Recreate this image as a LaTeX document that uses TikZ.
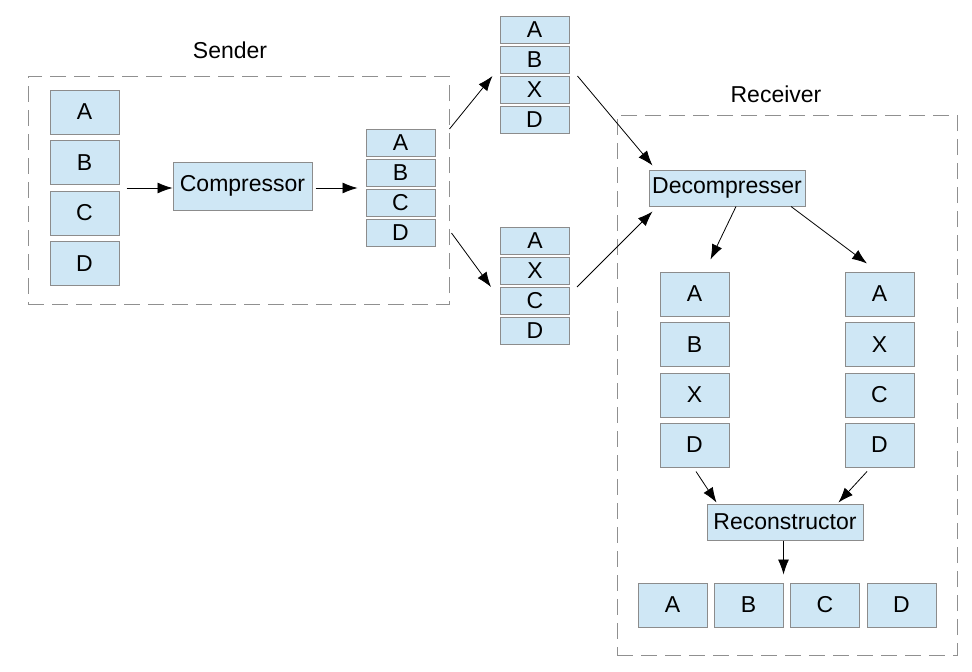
\documentclass[tikz,border=0pt]{standalone}
\usepackage{fontspec}
\setmainfont{Liberation Sans}
\usetikzlibrary{arrows.meta}
\definecolor{pktfill}{HTML}{CFE7F5}
\definecolor{pktline}{HTML}{8C8C8C}
\definecolor{grpline}{HTML}{909090}
\tikzset{
  pkt/.style={draw=pktline,fill=pktfill,line width=1pt,inner sep=0pt,
    minimum width=69pt,minimum height=44pt,font=\fontsize{23}{27}\selectfont},
  slim/.style={pkt,minimum height=27pt},
  proc/.style={pkt,minimum width=156pt,minimum height=36pt},
  grp/.style={draw=grpline,line width=1pt,dash pattern=on 16pt off 8pt,
    inner sep=0pt},
  lbl/.style={font=\fontsize{23}{27}\selectfont},
  arr/.style={-{Latex[length=15pt,width=11pt]},line width=0.8pt},
}
\begin{document}
\begin{tikzpicture}[x=1pt,y=-1pt]
\useasboundingbox (0,0) rectangle (972,672);
\node[grp,minimum width=421pt,minimum height=228pt] (sgrp) at (238.5,190) {};
\node[grp,minimum width=340pt,minimum height=540pt] (rgrp) at (787,385) {};
\node[lbl] (slbl) at (230,50) {Sender};
\node[lbl] (rlbl) at (776,94) {Receiver};
\node[pkt] (sA) at (84.5,112) {A};
\node[pkt] (sB) at (84.5,162.5) {B};
\node[pkt] (sC) at (84.5,213) {C};
\node[pkt] (sD) at (84.5,263.5) {D};
\node[pkt,minimum width=139pt,minimum height=48pt] (cmp) at (242.5,186) {Compressor};
\node[slim] (pA) at (400.5,143) {A};
\node[slim] (pB) at (400.5,173) {B};
\node[slim] (pC) at (400.5,203) {C};
\node[slim] (pD) at (400.5,233) {D};
\node[slim] (tA) at (534.5,30) {A};
\node[slim] (tB) at (534.5,60) {B};
\node[slim] (tX) at (534.5,90) {X};
\node[slim] (tD) at (534.5,120) {D};
\node[slim] (bA) at (535,241) {A};
\node[slim] (bX) at (535,271) {X};
\node[slim] (bC) at (535,301) {C};
\node[slim] (bD) at (535,331) {D};
\node[proc] (dec) at (727,188) {Decompresser};
\node[pkt] (lA) at (694.5,294) {A};
\node[pkt] (lB) at (694.5,344.5) {B};
\node[pkt] (lX) at (694.5,395) {X};
\node[pkt] (lD) at (694.5,445) {D};
\node[pkt] (rA) at (879.5,294) {A};
\node[pkt] (rX) at (879.5,344.5) {X};
\node[pkt] (rC) at (879.5,395) {C};
\node[pkt] (rD) at (879.5,445) {D};
\node[proc] (rec) at (785,522) {Reconstructor};
\node[pkt] (oA) at (672.5,605) {A};
\node[pkt] (oB) at (748.5,605) {B};
\node[pkt] (oC) at (825,605) {C};
\node[pkt] (oD) at (901.5,605) {D};
\draw[arr] ([xshift=7pt,yshift=-2pt]sB.east |- cmp.west) -- ([yshift=-2pt]cmp.west);
\draw[arr] ([xshift=3pt,yshift=-2pt]cmp.east) -- ([xshift=-8pt,yshift=-2pt]cmp.east -| pB.west);
\draw[arr] ([xshift=14pt]pA.north east) -- ([xshift=-7pt]tX.north west);
\draw[arr] ([xshift=16pt]pD.east) -- ([xshift=-9pt]bC.north west);
\draw[arr] ([xshift=8pt]tX.north east) -- ([xshift=4pt,yshift=4pt]dec.north west);
\draw[arr] ([xshift=7pt]bC.north east) -- ([xshift=4pt,yshift=-5pt]dec.south west);
\draw[arr] ([xshift=9pt]dec.south) -- ([xshift=16pt,yshift=12pt]lA.north);
\draw[arr] ([xshift=64pt]dec.south) -- ([xshift=-12.5pt,yshift=8pt]rA.north);
\draw[arr] ([xshift=1.5pt,yshift=-4pt]lD.south) -- ([xshift=10pt,yshift=1pt]rec.north west);
\draw[arr] ([xshift=-12.5pt,yshift=-4pt]rD.south) -- ([xshift=-25pt,yshift=1pt]rec.north east);
\draw[arr] (rec.south -| oB.north east) -- ([yshift=8pt]oB.north east);
\end{tikzpicture}
\end{document}
